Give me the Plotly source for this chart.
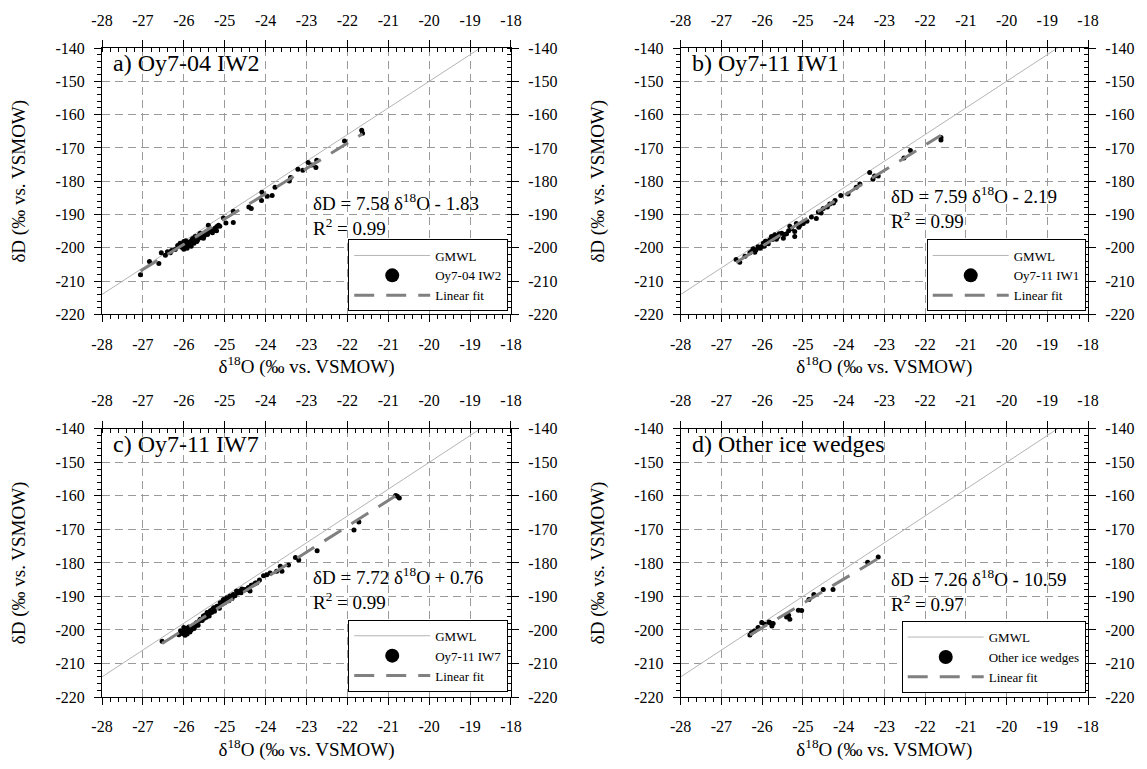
import plotly.graph_objects as go
import numpy as np

# ---------------- data ----------------
x_ticks = [-28, -27, -26, -25, -24, -23, -22, -21, -20, -19, -18]
x_ticktext = ["-28", "-27", "-26", "-25", "-24", "-23", "-22", "-21", "-20", "-19", "-18"]
y_ticks = [-220, -210, -200, -190, -180, -170, -160, -150, -140]
y_ticktext = ["-220", "-210", "-200", "-190", "-180", "-170", "-160", "-150", "-140"]

# a) Oy7-04 IW2
a_d18o = [-27.06, -26.84, -26.61, -26.55, -26.45, -26.33, -26.21, -26.09, -26.0, -25.96, -25.88, -25.80,
          -25.72, -25.68, -25.60, -25.52, -25.40, -25.36, -25.27, -25.19, -25.15, -25.03, -24.97, -24.79,
          -24.79, -24.41, -24.35, -24.09, -24.10, -23.96, -23.84, -23.77, -23.42, -23.39, -23.21, -23.09,
          -22.96, -22.87, -22.77, -22.75, -22.07, -21.65, -21.63,
          -26.15, -26.05, -26.0, -25.95, -25.9, -25.85, -25.82, -25.78, -25.75, -25.7, -25.66, -25.62,
          -25.58, -25.55, -25.5, -25.45, -25.42, -25.33, -25.3, -25.24, -25.2, -25.12, -26.3, -26.4,
          -25.98, -25.92, -25.74]
a_dD = [-208.1, -204.1, -204.7, -201.5, -202.2, -201.5, -200.5, -198.6, -198.1, -199.5, -198.6, -197.6,
        -196.6, -198.1, -195.6, -197.1, -193.2, -195.1, -194.6, -193.6, -193.2, -191.0, -192.5, -189.0,
        -192.4, -187.7, -188.2, -183.3, -185.8, -184.5, -184.3, -181.8, -179.9, -178.9, -176.4, -176.7,
        -174.4, -175.1, -175.9, -173.7, -167.9, -164.7, -165.6,
        -199.3, -199.8, -200.4, -197.9, -199.0, -198.2, -199.5, -197.2, -198.6, -196.8, -197.6, -196.2,
        -197.0, -195.9, -196.4, -195.3, -196.0, -194.8, -195.5, -194.1, -194.9, -193.5, -200.8, -201.2,
        -198.6, -200.1, -197.9]

# b) Oy7-11 IW1
b_d18o = [-26.64, -26.55, -26.42, -26.30, -26.22, -26.18, -26.10, -26.01, -25.97, -25.89, -25.81, -25.77,
          -25.69, -25.61, -25.52, -25.48, -25.40, -25.32, -25.20, -25.20, -25.16, -25.07, -24.99, -24.79,
          -24.67, -24.62, -24.50, -24.34, -24.21, -24.07, -23.89, -23.69, -23.60, -23.36, -23.28, -23.24,
          -23.15, -22.52, -22.36, -21.61, -21.61,
          -26.25, -26.15, -26.05, -25.95, -25.92, -25.85, -25.75, -25.65, -25.58, -25.45, -25.35, -25.28,
          -25.1, -24.9, -24.55, -24.4, -24.25]
b_dD = [-203.5, -204.3, -202.5, -201.5, -200.3, -201.3, -199.7, -199.6, -198.6, -198.1, -197.6, -196.6,
        -196.1, -196.6, -195.6, -197.1, -195.8, -193.5, -195.1, -196.6, -192.7, -193.2, -192.7, -190.7,
        -191.2, -189.2, -188.2, -186.8, -185.8, -184.3, -183.8, -181.8, -180.8, -177.4, -179.4, -178.4,
        -178.4, -173.0, -170.8, -166.9, -167.6,
        -201.0, -200.6, -200.1, -199.5, -198.0, -198.8, -197.5, -197.4, -195.8, -196.0, -194.9, -194.3,
        -193.8, -192.0, -189.5, -187.7, -186.5]

# c) Oy7-11 IW7
c_d18o = [-26.53, -26.08, -26.0, -25.92, -25.84, -25.76, -25.68, -25.60, -25.52, -25.43, -25.35, -25.27,
          -25.19, -25.11, -25.03, -24.95, -24.87, -24.79, -24.71, -24.63, -24.54, -24.46, -24.38, -24.30,
          -24.22, -24.05, -23.97, -23.89, -23.73, -23.64, -23.60, -23.44, -23.27, -23.19, -22.74, -21.84,
          -21.72, -20.82, -20.73, -20.78,
          -26.05, -26.0, -25.95, -25.9, -25.88, -25.82, -25.8, -25.72, -25.7, -25.65, -25.62, -25.55,
          -25.5, -25.48, -25.45, -25.4, -25.38, -25.32, -25.3, -25.25, -25.22, -25.15, -25.13, -25.08,
          -25.05, -25.0, -24.98, -24.92, -24.9, -24.85, -24.82, -24.75, -24.68, -24.6, -24.58, -24.5,
          -24.42, -24.35, -24.25, -24.15, -26.12, -26.02, -25.97, -25.85, -25.75]
c_dD = [-203.4, -200.2, -199.3, -201.2, -199.7, -198.7, -197.8, -196.8, -195.8, -194.8, -194.3, -193.4,
        -192.9, -191.9, -190.9, -190.4, -189.9, -189.4, -188.4, -188.4, -187.9, -187.9, -188.4, -186.5,
        -186.0, -183.8, -183.5, -183.0, -182.5, -181.0, -182.5, -180.6, -178.4, -179.1, -176.4, -170.2,
        -167.8, -159.9, -160.6, -160.1,
        -200.9, -200.7, -199.6, -200.3, -199.1, -200.0, -198.9, -198.9, -198.0, -198.6, -197.3, -197.2,
        -196.5, -195.6, -196.2, -195.0, -195.8, -194.8, -193.9, -194.4, -193.3, -192.9, -193.5, -192.4,
        -191.5, -191.9, -190.9, -190.8, -191.3, -190.0, -190.6, -189.8, -189.0, -188.9, -187.8, -188.0,
        -187.3, -186.7, -186.0, -185.1, -201.4, -201.1, -201.6, -200.6, -199.6]

# d) Other ice wedges
d_d18o = [-26.30, -26.19, -26.10, -26.01, -25.93, -25.83, -25.76, -25.73, -25.40, -25.32, -25.11, -25.03,
          -24.85, -24.73, -24.50, -24.26, -23.41, -23.15, -26.26, -25.80, -25.35]
d_dD = [-201.5, -200.3, -199.3, -197.8, -198.3, -197.6, -198.8, -198.1, -196.1, -196.8, -194.1, -194.2,
        -190.9, -189.4, -187.9, -187.9, -179.8, -178.2, -200.8, -197.9, -195.6]

panel_labels = ["a) Oy7-04 IW2", "b) Oy7-11 IW1", "c) Oy7-11 IW7", "d) Other ice wedges"]
series_names = ["Oy7-04 IW2", "Oy7-11 IW1", "Oy7-11 IW7", "Other ice wedges"]
fit_slopes = [7.58, 7.59, 7.72, 7.26]
fit_intercepts = [-1.83, -2.19, 0.76, -10.59]
fit_r2 = [0.99, 0.99, 0.99, 0.97]
gmwl_slope, gmwl_intercept = 8.0, 10.0

xs_all = [a_d18o, b_d18o, c_d18o, d_d18o]
ys_all = [a_dD, b_dD, c_dD, d_dD]

# ---------------- layout geometry ----------------
FONT = "Liberation Serif, Times New Roman, serif"
x_domains = [[0, 0.4148], [0.5869, 1.0], [0, 0.4148], [0.5869, 1.0]]
y_domains = [[0.5894, 1.0], [0.5894, 1.0], [0, 0.4132], [0, 0.4132]]
legend_pos = [(0.412, 0.594), (0.9977, 0.594), (0.412, 0.008), (0.9977, 0.006)]
eq_y = [0.377, 0.400, 0.404, 0.399]

fig = go.Figure()
layout = dict(
    width=1147, height=769,
    margin=dict(l=102, r=59, t=42, b=67),
    paper_bgcolor="white", plot_bgcolor="white",
    font=dict(family=FONT, color="black"),
    showlegend=True,
    annotations=[],
)

gmwl_x = np.array([-28.0, -18.0])

for i in range(4):
    k = i + 1
    sx = "" if k == 1 else str(k)
    xa, ya = "x" + sx, "y" + sx
    xt, yr = "x" + str(k + 4), "y" + str(k + 4)
    leg = "legend" if k == 1 else "legend" + str(k)

    # GMWL
    fig.add_trace(go.Scatter(x=gmwl_x, y=gmwl_slope * gmwl_x + gmwl_intercept, mode="lines",
                             line=dict(color="#b4b4b4", width=1), name="GMWL",
                             xaxis=xa, yaxis=ya, legend=leg, hoverinfo="skip"))
    # data points
    fig.add_trace(go.Scatter(x=xs_all[i], y=ys_all[i], mode="markers",
                             marker=dict(color="black", size=5), name=series_names[i],
                             xaxis=xa, yaxis=ya, showlegend=False))
    # legend proxy for the big marker symbol (lives on the labelled top/right axes)
    fig.add_trace(go.Scatter(x=[None], y=[None], mode="markers",
                             marker=dict(color="black", size=14), name=series_names[i],
                             xaxis=xt, yaxis=yr, legend=leg))
    # linear fit
    fx = np.array([min(xs_all[i]), max(xs_all[i])])
    fig.add_trace(go.Scatter(x=fx, y=fit_slopes[i] * fx + fit_intercepts[i], mode="lines",
                             line=dict(color="#808080", width=3, dash="20px,12px"), name="Linear fit",
                             xaxis=xa, yaxis=ya, legend=leg))

    common_x = dict(range=[-28, -18], tickvals=x_ticks, ticktext=x_ticktext,
                    showline=True, linecolor="black", linewidth=1, zeroline=False,
                    ticks="outside", ticklen=7, tickcolor="black", tickwidth=1,
                    tickfont=dict(size=16, family=FONT, color="black"))
    common_y = dict(range=[-220, -140], tickvals=y_ticks, ticktext=y_ticktext,
                    showline=True, linecolor="black", linewidth=1, zeroline=False,
                    ticks="outside", ticklen=7, tickcolor="black", tickwidth=1,
                    tickfont=dict(size=16, family=FONT, color="black"))

    layout["xaxis" + sx] = dict(common_x, domain=x_domains[i], anchor=ya, side="bottom",
                                showgrid=True, gridcolor="#9a9a9a", griddash="8px,5px", gridwidth=1,
                                minor=dict(dtick=0.2, tick0=-28, ticks="outside", ticklen=4,
                                           tickcolor="black", showgrid=False),
                                ticklabelstandoff=8,
                                title=dict(text="δ<sup>18</sup>O (‰ vs. VSMOW)",
                                           font=dict(size=19, family=FONT, color="black"), standoff=8))
    layout["yaxis" + sx] = dict(common_y, domain=y_domains[i], anchor=xa, side="left",
                                showgrid=True, gridcolor="#9a9a9a", griddash="8px,5px", gridwidth=1,
                                minor=dict(dtick=2, tick0=-220, ticks="outside", ticklen=4,
                                           tickcolor="black", showgrid=False),
                                ticklabelstandoff=6,
                                title=dict(text="δD (‰ vs. VSMOW)",
                                           font=dict(size=19, family=FONT, color="black"), standoff=24))
    # top and right labelled axes
    layout["xaxis" + str(k + 4)] = dict(common_x, overlaying=xa, anchor=yr, side="top",
                                        showgrid=False, ticklabelstandoff=8,
                                        minor=dict(dtick=0.2, tick0=-28, ticks="inside", ticklen=4,
                                                   tickcolor="black", showgrid=False))
    layout["yaxis" + str(k + 4)] = dict(common_y, overlaying=ya, anchor=xt, side="right",
                                        showgrid=False, ticklabelstandoff=6,
                                        minor=dict(dtick=2, tick0=-220, ticks="inside", ticklen=4,
                                                   tickcolor="black", showgrid=False))

    layout[leg] = dict(x=legend_pos[i][0], y=legend_pos[i][1], xanchor="right", yanchor="bottom",
                       xref="paper", yref="paper",
                       bgcolor="white", bordercolor="black", borderwidth=1,
                       font=dict(size=13, family=FONT, color="black"),
                       itemwidth=76, tracegroupgap=0, traceorder="normal")

    layout["annotations"].append(dict(text=panel_labels[i], xref=xa + " domain", yref=ya + " domain",
                                      x=0.022, y=0.945, xanchor="left", yanchor="middle",
                                      showarrow=False, font=dict(size=24, family=FONT, color="black")))
    sign = "-" if fit_intercepts[i] < 0 else "+"
    eq = (f"δD = {fit_slopes[i]:.2f} δ<sup>18</sup>O {sign} {abs(fit_intercepts[i]):.2f}"
          f"<br>R<sup>2</sup> = {fit_r2[i]:.2f}")
    layout["annotations"].append(dict(text=eq, xref=xa + " domain", yref=ya + " domain",
                                      x=0.511, y=eq_y[i], xanchor="left", yanchor="middle", align="left",
                                      showarrow=False, font=dict(size=19, family=FONT, color="black")))

fig.update_layout(**layout)
fig.write_html("out.html")
